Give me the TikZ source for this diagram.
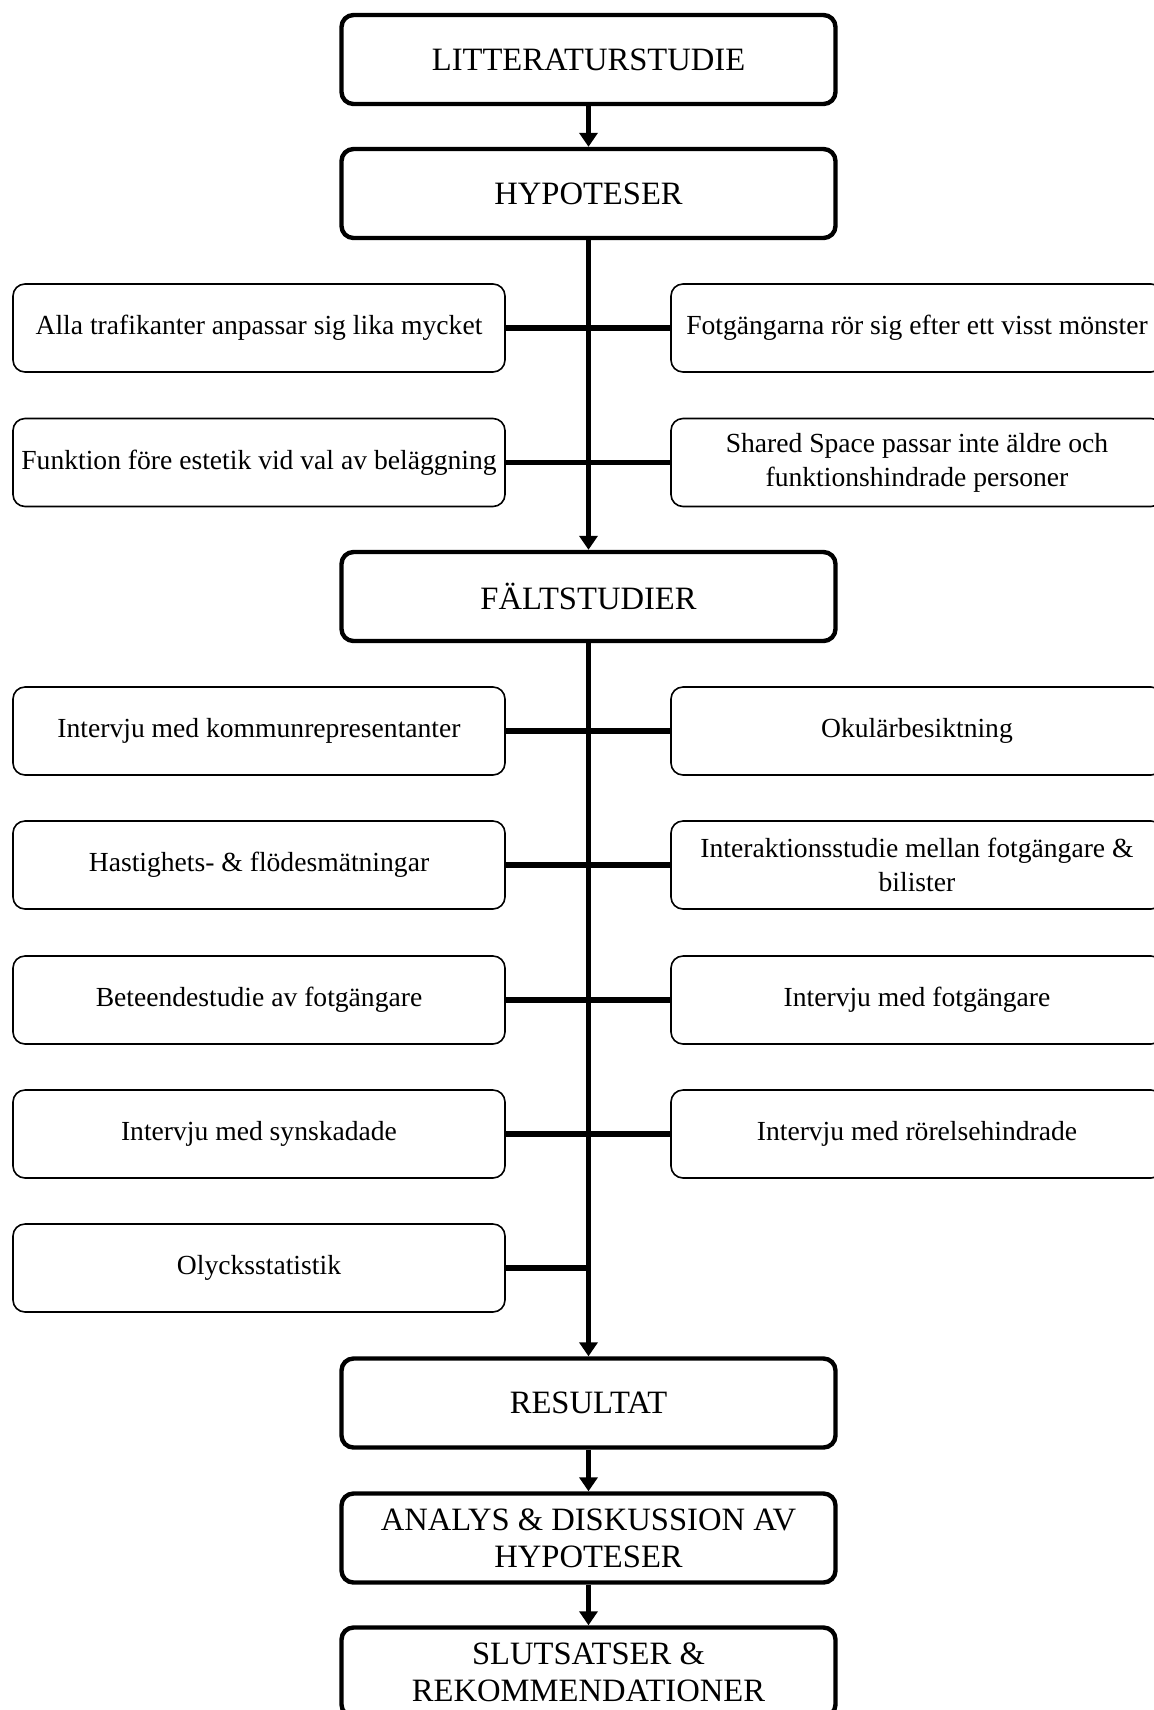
\documentclass[tikz,border=0pt]{standalone}
\usepackage{fontspec}
\setmainfont{Liberation Serif}
\usepackage{tikz}
\usetikzlibrary{arrows.meta}

\begin{document}
\begin{tikzpicture}[x=0.5pt,y=-0.5pt]
    \tikzstyle{phase}=[draw,rounded corners=6pt,line width=2.2pt,minimum width=247pt,minimum height=44.5pt,inner sep=2pt,align=center,font=\fontsize{16.3}{18.5}\selectfont]
    \tikzstyle{part}=[draw,rounded corners=6pt,line width=0.8pt,minimum width=246pt,minimum height=44pt,inner sep=2pt,align=center,font=\fontsize{13.8}{17}\selectfont]
    \tikzstyle{flow}=[line width=2.5pt,-{Triangle[length=7pt,width=9pt]}]
    \tikzstyle{branch}=[line width=2.8pt]

    \useasboundingbox (0,0) rectangle (1153,1710);

    % Draw the main phases
    \node[phase] (L) at (588.5,59.5) {LITTERATURSTUDIE};
    \node[phase] (H) at (588.5,193.5) {HYPOTESER};
    \node[phase] (F) at (588.5,596.5) {FÄLTSTUDIER};
    \node[phase] (R) at (588.5,1403) {RESULTAT};
    \node[phase] (A) at (588.5,1538) {ANALYS \& DISKUSSION AV\\HYPOTESER};
    \node[phase] (S) at (588.5,1672) {SLUTSATSER \&\\REKOMMENDATIONER};

    % Hypotheses
    \node[part] (HL-1) at (259,328) {Alla trafikanter anpassar sig lika mycket};
    \node[part] (HR-1) at (917,328) {Fotgängarna rör sig efter ett visst mönster};
    \node[part] (HL-2) at (259,462.5) {Funktion före estetik vid val av beläggning};
    \node[part] (HR-2) at (917,462.5) {Shared Space passar inte äldre och\\funktionshindrade personer};

    % Field studies
    \node[part] (FL-1) at (259,731) {Intervju med kommunrepresentanter};
    \node[part] (FR-1) at (917,731) {Okulärbesiktning};
    \node[part] (FL-2) at (259,865) {Hastighets- \& flödesmätningar};
    \node[part] (FR-2) at (917,865) {Interaktionsstudie mellan fotgängare \&\\bilister};
    \node[part] (FL-3) at (259,1000) {Beteendestudie av fotgängare};
    \node[part] (FR-3) at (917,1000) {Intervju med fotgängare};
    \node[part] (FL-4) at (259,1134) {Intervju med synskadade};
    \node[part] (FR-4) at (917,1134) {Intervju med rörelsehindrade};
    \node[part] (FL-5) at (259,1268) {Olycksstatistik};

    \path[branch] (HL-1.east) edge (HR-1.west);
    \path[branch] (HL-2.east) edge (HR-2.west);
    \path[branch] (FL-1.east) edge (FR-1.west);
    \path[branch] (FL-2.east) edge (FR-2.west);
    \path[branch] (FL-3.east) edge (FR-3.west);
    \path[branch] (FL-4.east) edge (FR-4.west);
    \path[branch] (FL-5.east) edge (F.south |- FL-5.east);

    \path[flow] (L) edge (H);
    \path[flow] (H) edge (F);
    \path[flow] (F) edge (R);
    \path[flow] (R) edge (A);
    \path[flow] (A) edge (S);
\end{tikzpicture}
\end{document}
